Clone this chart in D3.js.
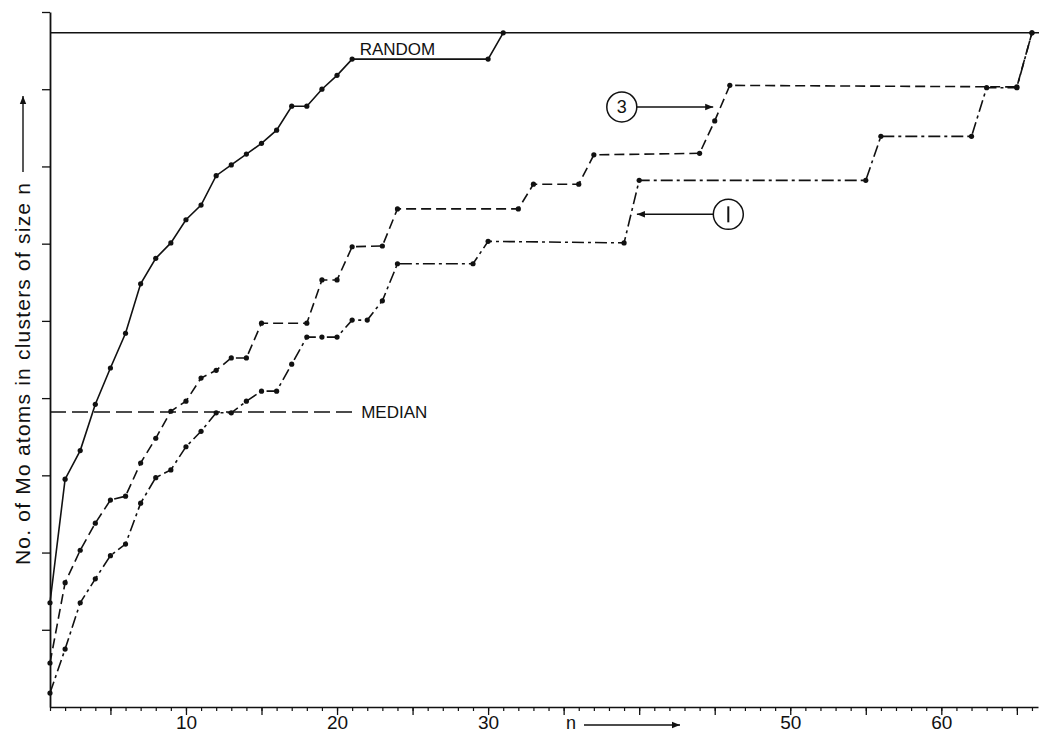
<!DOCTYPE html>
<html>
<head>
<meta charset="utf-8">
<script src="https://cdn.jsdelivr.net/npm/d3@7"></script>
<style>
  html, body { margin: 0; padding: 0; background: #fff; }
  svg { display: block; }
  text { font-family: "Liberation Sans", Arial, sans-serif; fill: #111; }
</style>
</head>
<body>
<svg id="chart" width="1039" height="735"></svg>
<script>
// ---- data (y in axis-tick units, unlabelled axis) ----
const randomN = [1,2,3,4,5,6,7,8,9,10,11,12,13,14,15,16,17,18,19,20,21,30,31];
const randomV = [1.35,2.95,3.32,3.92,4.39,4.84,5.48,5.81,6.01,6.31,6.50,6.88,7.02,7.16,7.30,7.47,7.78,7.78,8.00,8.18,8.39,8.39,8.73];

const curve3N = [1,2,3,4,5,6,7,8,9,10,11,12,13,14,15,18,19,20,21,23,24,32,33,36,37,44,45,46,65,66];
const curve3V = [0.57,1.61,2.03,2.38,2.68,2.73,3.16,3.48,3.83,3.96,4.26,4.36,4.52,4.52,4.97,4.97,5.53,5.53,5.96,5.97,6.45,6.45,6.77,6.77,7.15,7.17,7.59,8.05,8.03,8.73];

const curve1N = [1,2,3,4,5,6,7,8,9,10,11,12,13,14,15,16,17,18,19,20,21,22,23,24,29,30,39,40,55,56,62,63,65,66];
const curve1V = [0.18,0.75,1.35,1.66,1.96,2.11,2.64,2.97,3.07,3.37,3.57,3.81,3.81,3.96,4.09,4.09,4.44,4.79,4.79,4.79,5.01,5.01,5.26,5.74,5.74,6.03,6.01,6.82,6.82,7.39,7.39,8.02,8.02,8.73];

const totalV = 8.73;      // horizontal line: all Mo atoms
const medianV = 3.82;     // median level
const xTickLabels = [10, 20, 30, 50, 60];
const yTicks = [1,2,3,4,5,6,7,8,9];

// ---- layout ----
const svg = d3.select("#chart");
const x = d3.scaleLinear().domain([1, 66.4]).range([50, 1038]);
const y = d3.scaleLinear().domain([0, 9]).range([707, 12]);
const ink = "#111";

// axes
const xMinor = d3.range(1, 67);
const xMajor = xMinor.filter(d => d % 5 === 0);
svg.append("g").attr("transform", "translate(0,707)")
  .call(d3.axisBottom(x).tickValues(xMinor).tickSize(4).tickFormat("").tickSizeOuter(0))
  .call(g => g.select(".domain").attr("stroke", ink).attr("stroke-width", 1.6))
  .call(g => g.selectAll(".tick line").attr("stroke", ink).attr("stroke-width", 1.2));
svg.append("g").attr("transform", "translate(0,707)")
  .call(d3.axisBottom(x).tickValues(xMajor).tickSize(8).tickFormat("").tickSizeOuter(0))
  .call(g => g.select(".domain").remove())
  .call(g => g.selectAll(".tick line").attr("stroke", ink).attr("stroke-width", 1.3));
svg.append("g").attr("transform", "translate(0,707)")
  .call(d3.axisBottom(x).tickValues(xTickLabels).tickSize(0).tickPadding(9).tickFormat(d3.format("d")))
  .call(g => g.select(".domain").remove())
  .call(g => g.selectAll(".tick text").attr("font-size", 19).attr("fill", ink)
      .attr("font-family", "'Liberation Sans', Arial, sans-serif"));

svg.append("g").attr("transform", "translate(50,0)")
  .call(d3.axisLeft(y).tickValues(yTicks).tickSize(8).tickFormat("").tickSizeOuter(0))
  .call(g => g.select(".domain").attr("stroke", ink).attr("stroke-width", 1.8))
  .call(g => g.selectAll(".tick line").attr("stroke", ink).attr("stroke-width", 1.3));

// total line
svg.append("line")
  .attr("x1", x(1)).attr("x2", 1039)
  .attr("y1", y(totalV)).attr("y2", y(totalV))
  .attr("stroke", ink).attr("stroke-width", 1.5);

// median line + label
svg.append("line")
  .attr("x1", x(1)).attr("x2", x(21.1))
  .attr("y1", y(medianV)).attr("y2", y(medianV))
  .attr("stroke", ink).attr("stroke-width", 1.4).attr("stroke-dasharray", "16,6");
svg.append("text").attr("x", x(21.6)).attr("y", y(medianV) + 6)
  .attr("font-size", 17).text("MEDIAN");

// curves
const line = d3.line().x(d => x(d[0])).y(d => y(d[1]));
function drawCurve(ns, vs, dash) {
  const pts = ns.map((n, i) => [n, vs[i]]);
  svg.append("path").datum(pts).attr("d", line)
    .attr("fill", "none").attr("stroke", ink).attr("stroke-width", 1.6)
    .attr("stroke-dasharray", dash);
  svg.append("g").selectAll("circle").data(pts).join("circle")
    .attr("cx", d => x(d[0])).attr("cy", d => y(d[1])).attr("r", 2.6).attr("fill", ink);
}
drawCurve(randomN, randomV, null);
drawCurve(curve3N, curve3V, "10,5");
drawCurve(curve1N, curve1V, "12,4,3,4");

// RANDOM label
svg.append("text").attr("x", x(21.5)).attr("y", y(totalV) + 22)
  .attr("font-size", 17).text("RANDOM");

// arrow marker
const defs = svg.append("defs");
defs.append("marker").attr("id", "ah").attr("viewBox", "0 0 10 10")
  .attr("refX", 10).attr("refY", 5).attr("markerWidth", 14).attr("markerHeight", 8)
  .attr("markerUnits", "userSpaceOnUse").attr("orient", "auto")
  .append("path").attr("d", "M0,1 L10,5 L0,9 Z").attr("fill", ink);

// annotation 3
const a3 = { n: 38.85, v: 7.77, r: 15, tip: 44.9 };
svg.append("circle").attr("cx", x(a3.n)).attr("cy", y(a3.v)).attr("r", a3.r)
  .attr("fill", "none").attr("stroke", ink).attr("stroke-width", 1.5);
svg.append("text").attr("x", x(a3.n)).attr("y", y(a3.v) + 6).attr("text-anchor", "middle")
  .attr("font-size", 18).text("3");
svg.append("line").attr("x1", x(a3.n) + a3.r).attr("x2", x(a3.tip))
  .attr("y1", y(a3.v)).attr("y2", y(a3.v))
  .attr("stroke", ink).attr("stroke-width", 1.4).attr("marker-end", "url(#ah)");

// annotation 1
const a1 = { n: 45.9, v: 6.38, r: 15, tip: 39.85 };
svg.append("circle").attr("cx", x(a1.n)).attr("cy", y(a1.v)).attr("r", a1.r)
  .attr("fill", "none").attr("stroke", ink).attr("stroke-width", 1.5);
svg.append("line").attr("x1", x(a1.n)).attr("x2", x(a1.n))
  .attr("y1", y(a1.v) - 8).attr("y2", y(a1.v) + 8)
  .attr("stroke", ink).attr("stroke-width", 2);
svg.append("line").attr("x1", x(a1.n) - a1.r).attr("x2", x(a1.tip))
  .attr("y1", y(a1.v)).attr("y2", y(a1.v))
  .attr("stroke", ink).attr("stroke-width", 1.4).attr("marker-end", "url(#ah)");

// x-axis title "n ->"
svg.append("text").attr("x", 566).attr("y", 729).attr("font-size", 18).text("n");
svg.append("line").attr("x1", 584).attr("x2", 680).attr("y1", 725).attr("y2", 725)
  .attr("stroke", ink).attr("stroke-width", 1.4).attr("marker-end", "url(#ah)");

// y-axis title
svg.append("text")
  .attr("transform", "translate(30,565) rotate(-90)")
  .attr("font-size", 21)
  .attr("textLength", 382).attr("lengthAdjust", "spacing")
  .text("No. of Mo atoms in clusters of size n");
svg.append("line").attr("x1", 23).attr("x2", 23).attr("y1", 172).attr("y2", 96)
  .attr("stroke", ink).attr("stroke-width", 1.4).attr("marker-end", "url(#ah)");
</script>
</body>
</html>
